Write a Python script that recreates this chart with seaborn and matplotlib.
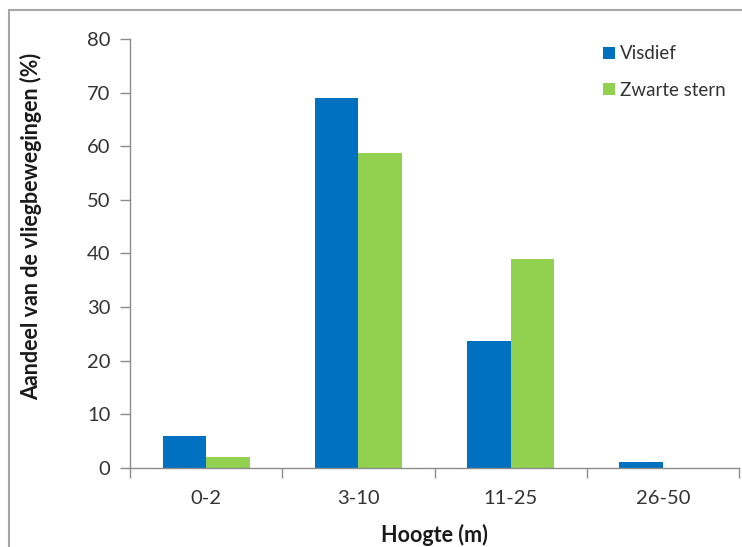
import matplotlib
matplotlib.use("Agg")
import matplotlib.pyplot as plt
from matplotlib.lines import Line2D
import seaborn as sns
import pandas as pd

# Flight-height distribution for two tern species
categories = ["0-2", "3-10", "11-25", "26-50"]
visdief = [6.0, 69.0, 23.7, 1.1]
zwarte_stern = [2.1, 58.7, 39.0, 0.0]
series_names = ["Visdief", "Zwarte stern"]
yticks = [0, 10, 20, 30, 40, 50, 60, 70, 80]

df = pd.DataFrame({
    "Hoogte": categories * 2,
    "Aandeel": visdief + zwarte_stern,
    "Soort": [series_names[0]] * len(categories) + [series_names[1]] * len(categories),
})

sns.set_theme(style="white")
plt.rcParams["font.family"] = ["Lato", "DejaVu Sans"]

fig = plt.figure(figsize=(7.42, 5.47), dpi=100)
ax = fig.add_axes([130 / 742, 1 - 468 / 547, (739 - 130) / 742, (468 - 39) / 547])

palette = {"Visdief": "#0070C0", "Zwarte stern": "#92D050"}
sns.barplot(data=df, x="Hoogte", y="Aandeel", hue="Soort", order=categories,
            hue_order=series_names, palette=palette, width=0.57, gap=0,
            saturation=1, ax=ax, edgecolor="none", linewidth=0)

ax.set_ylim(0, 80)
ax.set_xlim(-0.5, len(categories) - 0.5)
ax.set_yticks(yticks)
ax.set_yticklabels([str(v) for v in yticks], fontsize=14.5, color="#333333")
ax.set_xticks(range(len(categories)))
ax.set_xticklabels(categories, fontsize=14.5, color="#333333")
ax.set_xticks([i - 0.5 for i in range(len(categories) + 1)], minor=True)

axis_grey = "#8c8c8c"
for side in ["top", "right"]:
    ax.spines[side].set_visible(False)
for side in ["left", "bottom"]:
    ax.spines[side].set_color(axis_grey)
    ax.spines[side].set_linewidth(1.0)

ax.tick_params(axis="y", which="major", direction="out", length=7, width=1,
               color=axis_grey, left=True, pad=7)
ax.tick_params(axis="x", which="major", length=0, pad=16)
ax.tick_params(axis="x", which="minor", direction="out", length=7, width=1,
               color=axis_grey, bottom=True)

ax.set_xlabel("Hoogte (m)", fontsize=15.5, fontweight="bold", color="#1a1a1a", labelpad=12)
ax.set_ylabel("Aandeel van de vliegbewegingen (%)", fontsize=15.5, fontweight="bold",
              color="#1a1a1a", va="center")
ax.yaxis.set_label_coords(-0.162, 0.562)

leg = ax.legend(loc="upper left", bbox_to_anchor=(0.765, 1.003), frameon=False,
                fontsize=13.5, handlelength=0.6, handleheight=0.6, handletextpad=0.3,
                labelspacing=1.05, borderaxespad=0)
for t in leg.get_texts():
    t.set_color("#333333")

# Outer chart-area border (top and left edges visible)
frame_grey = "#a6a6a6"
fig.add_artist(Line2D([9 / 742, 9 / 742], [0, 1 - 10 / 547], color=frame_grey,
                      linewidth=1.5, transform=fig.transFigure))
fig.add_artist(Line2D([9 / 742, 1], [1 - 10 / 547, 1 - 10 / 547], color=frame_grey,
                      linewidth=1.5, transform=fig.transFigure))

fig.savefig("out.png", dpi=100)
